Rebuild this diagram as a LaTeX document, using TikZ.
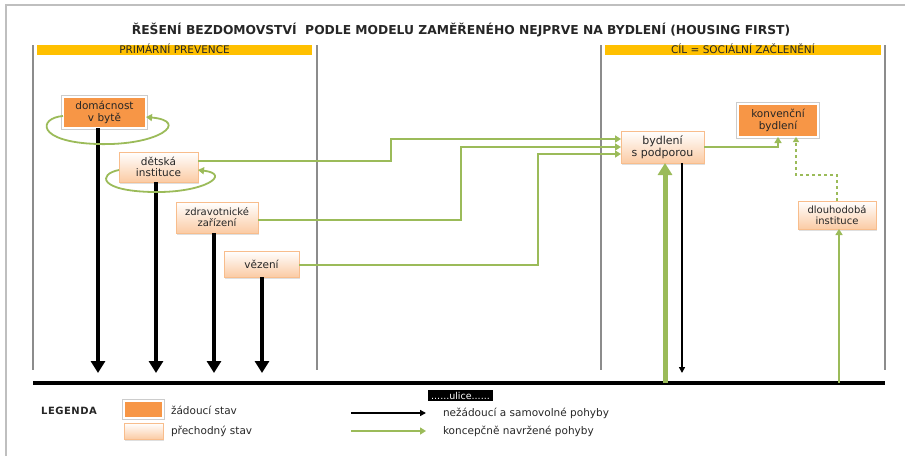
\documentclass[tikz,border=0pt]{standalone}
\usepackage{fontspec}
\setmainfont{DejaVu Sans}
\usetikzlibrary{arrows.meta,shadows}
\definecolor{dorange}{HTML}{F79646}
\definecolor{gold}{HTML}{FFC000}
\definecolor{hfgreen}{HTML}{9BBB59}
\definecolor{peach}{HTML}{FBCBA4}
\definecolor{peachline}{HTML}{F8BD8C}
\definecolor{secgray}{HTML}{8C8C8C}
\definecolor{txt}{HTML}{262626}
\begin{document}
\begin{tikzpicture}[x=1pt,y=-1pt,
  every node/.style={inner sep=0pt,outer sep=0pt,text=txt},
  goal/.style={fill=dorange,draw=white,line width=1.5pt,
    preaction={draw=black!20,line width=4pt},
    align=center,font=\fontsize{10.5}{11.5}\selectfont},
  trans/.style={top color=white,bottom color=peach,draw=peachline,line width=0.7pt,
    drop shadow={shadow xshift=1pt,shadow yshift=-1.5pt,opacity=0.25},
    align=center,font=\fontsize{10.5}{11.5}\selectfont},
  secline/.style={draw=secgray,line width=1.3pt},
  bar/.style={fill=gold,text height=7pt,text depth=1pt,font=\fontsize{10.5}{11}\selectfont},
  street/.style={draw=black,line width=4pt},
  badarrow/.style={draw=black,line width=4.5pt,-{Triangle[width=14pt,length=12pt]}},
  thinbad/.style={draw=black,line width=1.8pt,-{Triangle[width=6pt,length=6pt]}},
  goodarrow/.style={draw=hfgreen,line width=1.8pt,-{Triangle[width=7pt,length=6pt]}},
  bigup/.style={draw=hfgreen,line width=5pt,-{Triangle[width=14pt,length=12pt]}},
  dashgood/.style={draw=hfgreen,line width=1.2pt,dashed,-{Triangle[width=6pt,length=5pt]}},
  loopline/.style={draw=hfgreen,line width=1.8pt,-{Triangle[width=7pt,length=6pt]}},
  legtext/.style={font=\fontsize{10.5}{12}\selectfont},
  legbad/.style={draw=black,line width=1.5pt,-{Triangle[width=6pt,length=6pt]}},
  leggood/.style={draw=hfgreen,line width=2pt,-{Triangle[width=7pt,length=6pt]}},
]
\useasboundingbox (0,0) rectangle (905,456);
% outer frame
\draw[draw=black!25,line width=1.5pt] (6,456) -- (6,5) -- (905,5);
% title
\node[font=\fontsize{12.3}{14}\selectfont\bfseries] (title) at (461,30)
  {ŘEŠENÍ BEZDOMOVSTVÍ\ \ PODLE MODELU ZAMĚŘENÉHO NEJPRVE NA BYDLENÍ (HOUSING FIRST)};
% section lines
\draw[secline] (33,45) -- (33,370);
\draw[secline] (317,45) -- (317,370);
\draw[secline] (601,45) -- (601,370);
\draw[secline] (885,45) -- (885,370);
% header bars
\node[bar,minimum width=275pt,minimum height=10pt] (barL) at (174.5,50) {PRIMÁRNÍ PREVENCE};
\node[bar,minimum width=276pt,minimum height=10pt] (barR) at (743,50) {CÍL = SOCIÁLNÍ ZAČLENĚNÍ};
% street
\coordinate (stL) at (33,383);
\coordinate (stR) at (885,383);
\draw[street] (stL) -- (stR);
% nodes
\node[goal,minimum width=83pt,minimum height=31pt] (dom) at (104.5,112.5) {domácnost\\v bytě};
\node[trans,minimum width=79pt,minimum height=30pt] (det) at (158.5,167) {dětská\\instituce};
\node[trans,minimum width=82pt,minimum height=31pt,font=\fontsize{10}{11}\selectfont] (zdr) at (217,217.5) {zdravotnické\\zařízení};
\node[trans,minimum width=75pt,minimum height=26pt] (vez) at (261.5,264) {vězení};
\node[trans,minimum width=83pt,minimum height=32pt,font=\fontsize{11}{12}\selectfont] (byd) at (662.5,147) {bydlení\\s podporou};
\node[goal,minimum width=80pt,minimum height=33pt] (kon) at (778,120.5) {konvenční\\bydlení};
\node[trans,minimum width=78pt,minimum height=28pt,font=\fontsize{10}{11}\selectfont] (dlo) at (837,215) {dlouhodobá\\instituce};
% black arrows to the street
\coordinate (e1) at (98,373);
\coordinate (e2) at (156,373);
\coordinate (e3) at (214,373);
\coordinate (e4) at (262,373);
\draw[badarrow] (dom.south -| e1) -- (e1);
\draw[badarrow] (det.south -| e2) -- (e2);
\draw[badarrow] (zdr.south -| e3) -- (e3);
\draw[badarrow] (vez.south -| e4) -- (e4);
\coordinate (e5) at (682,373);
\draw[thinbad] (byd.south -| e5) -- (e5);
% green arrows from street
\coordinate (g1) at (665,383);
\draw[bigup] (g1) -- (g1 |- byd.south);
\coordinate (g2) at (839,383);
\draw[goodarrow] (g2) -- (g2 |- dlo.south);
% loops
\draw[loopline] ([yshift=-3.5pt]dom.west) .. controls (38,118) and (36,142) .. (97,144)
  .. controls (160,146) and (190,121) .. ([yshift=-4.5pt]dom.east);
\draw[loopline] ([yshift=-3pt]det.west) .. controls (98,174) and (98,191) .. (153,192)
  .. controls (205,193) and (232,174) .. ([yshift=-3pt]det.east);
% green connectors to supported housing
\coordinate (k1) at (391,150);
\coordinate (k2) at (461,180);
\coordinate (k3) at (538,200);
\draw[goodarrow] ([yshift=6pt]det.east) -| (k1) |- ([yshift=8pt]byd.west);
\draw[goodarrow] ([yshift=-2.5pt]zdr.east) -| (k2) |- (byd.west);
\draw[goodarrow] ([yshift=-1pt]vez.east) -| (k3) |- ([yshift=-7pt]byd.west);
\draw[goodarrow] (byd.east) -| (kon.south);
\coordinate (k4) at (816,175);
\draw[dashgood] (dlo.north) |- (k4) -| ([xshift=18pt]kon.south);
% legend
\node[font=\fontsize{10}{11}\selectfont\bfseries\addfontfeature{LetterSpace=5}] (leg) at (69,411) {LEGENDA};
\node[goal,minimum width=39pt,minimum height=17pt] (sw1) at (143.5,409.5) {};
\node[trans,minimum width=39pt,minimum height=16pt] (sw2) at (143.5,431) {};
\node[legtext,anchor=west] (t1) at (171,410) {žádoucí stav};
\node[legtext,anchor=west] (t2) at (171,431) {přechodný stav};
\coordinate (a1s) at (351,413);
\coordinate (a1e) at (426,413);
\draw[legbad] (a1s) -- (a1e);
\coordinate (a2s) at (351,431);
\coordinate (a2e) at (426,431);
\draw[leggood] (a2s) -- (a2e);
\node[legtext,anchor=west] (t3) at (443,413) {nežádoucí a samovolné pohyby};
\node[legtext,anchor=west] (t4) at (443,431) {koncepčně navržené pohyby};
\node[fill=black,text=white,minimum width=65pt,minimum height=11pt,font=\fontsize{9.5}{10}\selectfont] (ul) at (460.5,395.5) {......ulice......};
\end{tikzpicture}
\end{document}
